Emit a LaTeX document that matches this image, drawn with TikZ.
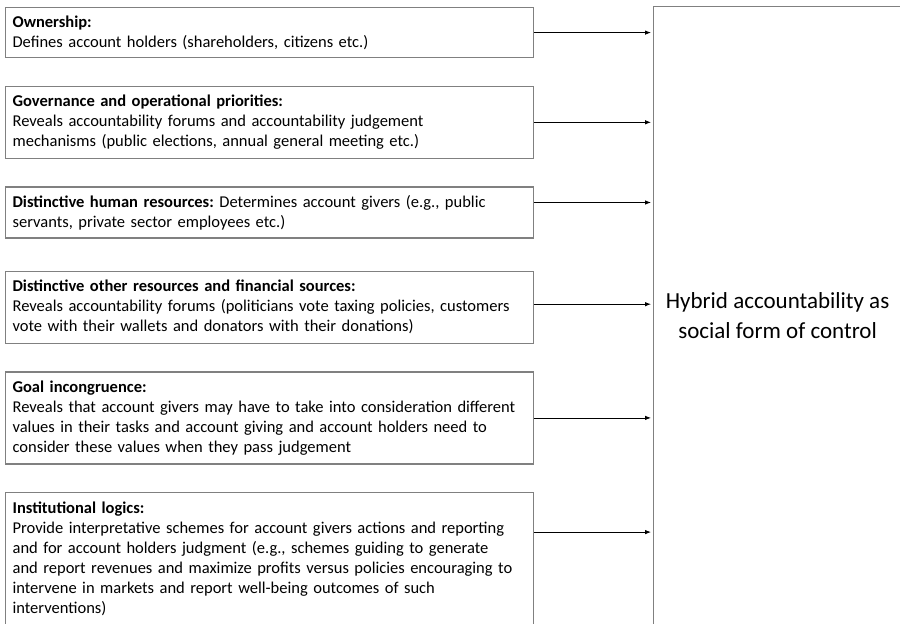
\documentclass[tikz,border=0pt]{standalone}
\usepackage{fontspec}
\setmainfont{Carlito}
\usetikzlibrary{arrows.meta,positioning}
\frenchspacing

\begin{document}
\begin{tikzpicture}[x=1pt,y=1pt,node distance=27.5pt,
box/.style={draw=black!50,line width=1.2pt,align=left,text width=514pt,inner xsep=7pt,inner ysep=0pt,font=\fontsize{16.5}{20}\selectfont},
arr/.style={-{Latex[length=6pt,width=4.5pt]},line width=0.8pt,shorten >=2pt}]
\useasboundingbox (0,0) rectangle (900,-624);
\node[box,minimum height=50pt,anchor=north west] (own) at (5,-7) {\textbf{Ownership:}\\Defines account holders (shareholders, citizens etc.)};
\node[box,minimum height=72pt,below=of own] (gov) {\textbf{Governance and operational priorities:}\\Reveals accountability forums and accountability judgement\\mechanisms (public elections, annual general meeting etc.)};
\node[box,minimum height=51pt,below=of gov] (hum) {\textbf{Distinctive human resources:} Determines account givers (e.g., public\\servants, private sector employees etc.)};
\node[box,minimum height=72pt,below=32pt of hum] (fin) {\textbf{Distinctive other resources and financial sources:}\\Reveals accountability forums (politicians vote taxing policies, customers\\vote with their wallets and donators with their donations)};
\node[box,minimum height=92pt,below=of fin] (goal) {\textbf{Goal incongruence:}\\Reveals that account givers may have to take into consideration different\\values in their tasks and account giving and account holders need to\\consider these values when they pass judgement};
\node[box,minimum height=133pt,below=of goal] (inst) {\textbf{Institutional logics:}\\Provide interpretative schemes for account givers actions and reporting\\and for account holders judgment (e.g., schemes guiding to generate\\and report revenues and maximize profits versus policies encouraging to\\intervene in markets and report well-being outcomes of such\\interventions)};
\node[draw=black!50,line width=1.2pt,anchor=north west,minimum width=248pt,minimum height=618pt,align=center,font=\fontsize{23}{30}\selectfont] (hyb) at (653,-6) {Hybrid accountability as\\social form of control};
\draw[arr] (own.east)--(own.east-|hyb.west);
\draw[arr] (gov.east)--(gov.east-|hyb.west);
\draw[arr] ([yshift=10pt]hum.east)--([yshift=10pt]hum.east-|hyb.west);
\draw[arr] ([yshift=3pt]fin.east)--([yshift=3pt]fin.east-|hyb.west);
\draw[arr] (goal.east)--(goal.east-|hyb.west);
\draw[arr] ([yshift=27pt]inst.east)--([yshift=27pt]inst.east-|hyb.west);
\end{tikzpicture}
\end{document}
